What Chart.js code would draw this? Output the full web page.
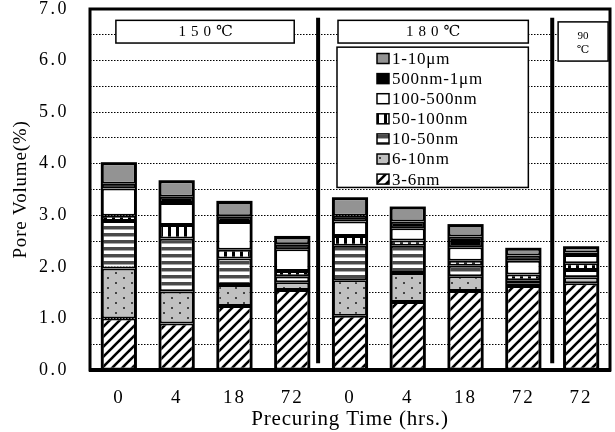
<!DOCTYPE html>
<html>
<head>
<meta charset="utf-8">
<script src="https://cdn.jsdelivr.net/npm/chart.js@4.4.0/dist/chart.umd.min.js"></script>
<style>
    html, body { margin: 0; padding: 0; background: #fff; }
    #wrap { width: 615px; height: 432px; }
</style>
</head>
<body>
<div id="wrap"><canvas id="pore-chart" width="615" height="432"></canvas></div>
<script>
// --- DATA ---
const categories = ['0', '4', '18', '72', '0', '4', '18', '72', '72'];
const seriesNames = ['3-6nm', '6-10nm', '10-50nm', '50-100nm', '100-500nm', '500nm-1μm', '1-10μm'];

const pore3to6 = [1.00, 0.90, 1.24, 1.55, 1.05, 1.32, 1.53, 1.63, 1.68];
const pore6to10 = [0.97, 0.62, 0.41, 0.15, 0.69, 0.56, 0.29, 0.05, 0.12];
const pore10to50 = [0.92, 1.03, 0.51, 0.12, 0.67, 0.53, 0.20, 0.06, 0.14];
const pore50to100 = [0.10, 0.26, 0.17, 0.10, 0.19, 0.10, 0.10, 0.11, 0.13];
const pore100to500 = [0.53, 0.43, 0.54, 0.42, 0.28, 0.24, 0.26, 0.27, 0.16];
const pore500to1000 = [0.09, 0.12, 0.11, 0.10, 0.11, 0.13, 0.21, 0.10, 0.05];
const pore1to10um = [0.40, 0.30, 0.28, 0.14, 0.34, 0.27, 0.22, 0.13, 0.10];

const groupLabels = ['150℃', '180℃'];
const SERIF = '"Liberation Serif", "DejaVu Serif", serif';

// --- FILL PATTERNS ---
function makePattern(w, h, paint) {
    const c = document.createElement('canvas');
    c.width = w; c.height = h;
    const g = c.getContext('2d');
    paint(g, w, h);
    return document.getElementById('pore-chart').getContext('2d').createPattern(c, 'repeat');
}

const hatchFill = makePattern(10, 10, (g, w, h) => {
    g.fillStyle = '#fff'; g.fillRect(0, 0, w, h);
    g.strokeStyle = '#000'; g.lineWidth = 2.6;
    [[-10, 10, 10, -10], [0, 10, 10, 0], [0, 20, 20, 0]].forEach(([a, b, c2, d]) => {
        g.beginPath(); g.moveTo(a, b); g.lineTo(c2, d); g.stroke();
    });
});

const dotFill = makePattern(16, 10, (g, w, h) => {
    g.fillStyle = '#c0c0c0'; g.fillRect(0, 0, w, h);
    g.fillStyle = '#444';
    g.fillRect(3, 2, 2, 2);
    g.fillRect(11, 7, 2, 2);
});

const hstripeFill = makePattern(4, 7, (g, w, h) => {
    g.fillStyle = '#fff'; g.fillRect(0, 0, w, h);
    g.fillStyle = '#4a4a4a'; g.fillRect(0, 2, w, 3);
    g.fillStyle = '#a8a8a8'; g.fillRect(0, 5, w, 1);
});

const vstripeFill = makePattern(8, 4, (g, w, h) => {
    g.fillStyle = '#fff'; g.fillRect(0, 0, w, h);
    g.fillStyle = '#000'; g.fillRect(0, 0, 3, h);
});

const SERIES_FILLS = [hatchFill, dotFill, hstripeFill, vstripeFill, '#ffffff', '#000000', '#939393'];
const seriesValues = [pore3to6, pore6to10, pore10to50, pore50to100, pore100to500, pore500to1000, pore1to10um];

// letter spacing for axis texts (the library has no option for it)
const AXIS_SPACING = { x: { labels: 2, title: 0.8 }, y: { labels: 2.5, title: 0.8 } };

// --- HELPERS ---
function spacedText(ctx, text, cx, cy, spacing) {
    ctx.save();
    ctx.letterSpacing = spacing + 'px';
    const w = ctx.measureText(text).width - spacing;
    ctx.textAlign = 'left';
    ctx.textBaseline = 'middle';
    ctx.fillText(text, cx - w / 2, cy);
    ctx.restore();
}

function box(ctx, x1, y1, x2, y2, lw) {
    ctx.fillStyle = '#fff';
    ctx.fillRect(x1, y1, x2 - x1, y2 - y1);
    ctx.strokeStyle = '#000';
    ctx.lineWidth = lw;
    ctx.strokeRect(x1, y1, x2 - x1, y2 - y1);
}

// --- PLUGINS ---
const axisSpacing = {
    id: 'axisSpacing',
    afterLayout(chart) {
        ['x', 'y'].forEach(id => {
            const s = chart.scales[id];
            if (s._spaced) return;
            s._spaced = true;
            const drawLabels = s.drawLabels.bind(s), drawTitle = s.drawTitle.bind(s);
            s.drawLabels = (...a) => { s.ctx.letterSpacing = AXIS_SPACING[id].labels + 'px'; drawLabels(...a); s.ctx.letterSpacing = '0px'; };
            s.drawTitle = (...a) => { s.ctx.letterSpacing = AXIS_SPACING[id].title + 'px'; drawTitle(...a); s.ctx.letterSpacing = '0px'; };
        });
    }
};

const stackOutline = {
    id: 'stackOutline',
    afterDatasetsDraw(chart) {
        const { ctx } = chart;
        const first = chart.getDatasetMeta(0).data;
        const last = chart.getDatasetMeta(chart.data.datasets.length - 1).data;
        ctx.save();
        ctx.strokeStyle = '#000';
        ctx.lineWidth = 2;
        first.forEach((bar, i) => {
            const w = bar.width;
            ctx.strokeRect(bar.x - w / 2, last[i].y, w, bar.base - last[i].y);
        });
        ctx.restore();
    }
};

const annotations = {
    id: 'annotations',
    afterDraw(chart) {
        const { ctx, chartArea: area, scales: { x, y } } = chart;
        ctx.save();

        // plot frame
        ctx.strokeStyle = '#000';
        ctx.lineWidth = 3;
        ctx.strokeRect(area.left, area.top, area.right - area.left, area.bottom - area.top);
        ctx.lineWidth = 4;
        ctx.beginPath();
        ctx.moveTo(area.left - 1, area.bottom);
        ctx.lineTo(area.right + 1, area.bottom);
        ctx.stroke();

        // group dividers
        ctx.lineWidth = 4;
        [3, 7].forEach(i => {
            const dx = (x.getPixelForValue(i) + x.getPixelForValue(i + 1)) / 2 - (i === 3 ? 3 : 0);
            ctx.beginPath();
            ctx.moveTo(dx, y.getPixelForValue(6.83));
            ctx.lineTo(dx, y.getPixelForValue(0.13));
            ctx.stroke();
        });

        // group title boxes
        ctx.font = '15px ' + SERIF;
        const bt = y.getPixelForValue(6.78), bb = y.getPixelForValue(6.34);
        box(ctx, x.getPixelForValue(0) - 3, bt, x.getPixelForValue(3) + 2, bb, 1.5);
        ctx.fillStyle = '#000';
        spacedText(ctx, groupLabels[0], (x.getPixelForValue(0) + x.getPixelForValue(3)) / 2, (bt + bb) / 2, 5);
        box(ctx, x.getPixelForValue(4) - 12, bt, x.getPixelForValue(7) + 5, bb, 1.5);
        ctx.fillStyle = '#000';
        spacedText(ctx, groupLabels[1], (x.getPixelForValue(4) - 12 + x.getPixelForValue(7) + 5) / 2, (bt + bb) / 2, 5);

        // 90℃ box
        const sx = x.getPixelForValue(8);
        box(ctx, sx - 23, y.getPixelForValue(6.75), sx + 27, y.getPixelForValue(5.99), 1.5);
        ctx.fillStyle = '#000';
        ctx.font = '11px ' + SERIF;
        ctx.textAlign = 'center';
        ctx.textBaseline = 'middle';
        ctx.fillText('90', sx + 2, y.getPixelForValue(6.48));
        ctx.fillText('℃', sx + 2, y.getPixelForValue(6.20));

        // legend
        const lx1 = x.getPixelForValue(4) - 13, lx2 = x.getPixelForValue(7) + 5;
        box(ctx, lx1, y.getPixelForValue(6.26), lx2, y.getPixelForValue(3.54), 1.5);
        ctx.font = '17px ' + SERIF;
        ctx.textAlign = 'left';
        ctx.textBaseline = 'middle';
        for (let k = seriesNames.length - 1, row = 0; k >= 0; k--, row++) {
            const ry = y.getPixelForValue(6.04) + row * 20.1;
            ctx.fillStyle = SERIES_FILLS[k];
            ctx.fillRect(lx1 + 40, ry - 5, 12, 10);
            ctx.strokeStyle = '#000';
            ctx.lineWidth = 1.5;
            ctx.strokeRect(lx1 + 40, ry - 5, 12, 10);
            ctx.fillStyle = '#000';
            ctx.letterSpacing = '0.8px';
            ctx.fillText(seriesNames[k], lx1 + 55, ry + 1);
            ctx.letterSpacing = '0px';
        }
        ctx.restore();
    }
};

// --- CHART ---
const ctx = document.getElementById('pore-chart').getContext('2d');
new Chart(ctx, {
    type: 'bar',
    data: {
        labels: categories,
        datasets: seriesNames.map((name, i) => ({
            label: name,
            data: seriesValues[i],
            backgroundColor: SERIES_FILLS[i],
            borderColor: '#000',
            borderWidth: 2,
            borderSkipped: false,
            barPercentage: 0.59,
            categoryPercentage: 1.0
        }))
    },
    options: {
        responsive: false,
        animation: false,
        devicePixelRatio: 1,
        layout: { padding: { top: 9, right: 5, left: 0, bottom: 0 } },
        plugins: { legend: { display: false }, tooltip: { enabled: false } },
        scales: {
            x: {
                stacked: true,
                grid: { display: false },
                border: { display: false },
                ticks: { color: '#000', font: { family: SERIF, size: 19 }, padding: 9, maxRotation: 0 },
                title: { display: true, text: 'Precuring Time (hrs.)', color: '#000', font: { family: SERIF, size: 21 }, padding: { top: 0, bottom: 0 } },
                afterFit: s => { s.height = 62; s.paddingLeft = 0; s.paddingRight = 0; }
            },
            y: {
                stacked: true,
                min: 0,
                max: 7,
                grid: { color: '#000', lineWidth: 1, drawTicks: false },
                border: { display: false, dash: [1.5, 1.5] },
                ticks: {
                    stepSize: 0.5,
                    color: '#000',
                    padding: 21,
                    font: { family: SERIF, size: 18 },
                    callback: v => (Math.abs(v % 1) < 1e-6 ? v.toFixed(1) : '')
                },
                title: { display: true, text: 'Pore Volume(%)', color: '#000', font: { family: SERIF, size: 19 }, padding: { top: 10, bottom: 0 } },
                afterFit: s => { s.width = 90; s.paddingTop = 0; s.paddingBottom = 0; }
            }
        }
    },
    plugins: [axisSpacing, stackOutline, annotations]
});
</script>
</body>
</html>
